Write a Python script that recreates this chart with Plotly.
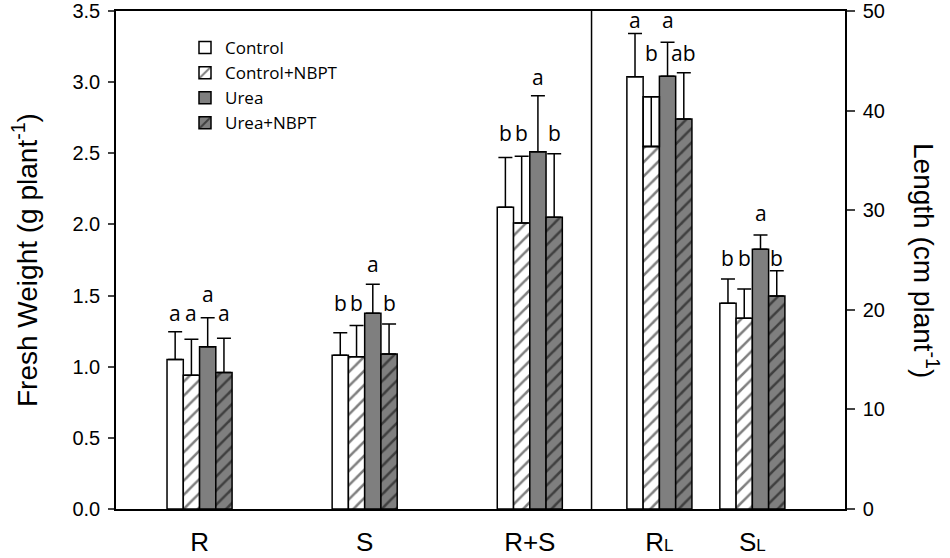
import plotly.graph_objects as go

# ---- data ----
fw_categories = ["R", "S", "R+S"]
len_categories = ["R<span style='font-size:17px'>L</span>", "S<span style='font-size:17px'>L</span>"]
treatments = ["Control", "Control+NBPT", "Urea", "Urea+NBPT"]

fw_control = [1.05, 1.08, 2.12]
fw_control_nbpt = [0.94, 1.07, 2.01]
fw_urea = [1.14, 1.375, 2.51]
fw_urea_nbpt = [0.96, 1.09, 2.05]

fw_err_control = [0.195, 0.158, 0.35]
fw_err_control_nbpt = [0.253, 0.22, 0.47]
fw_err_urea = [0.204, 0.204, 0.395]
fw_err_urea_nbpt = [0.24, 0.21, 0.446]

len_control = [43.4, 20.65]
len_control_nbpt = [36.4, 19.15]
len_urea = [43.45, 26.07]
len_urea_nbpt = [39.16, 21.39]

len_err_control = [4.35, 2.44]
len_err_control_nbpt = [5.0, 2.94]
len_err_urea = [3.4, 1.43]
len_err_urea_nbpt = [4.65, 2.54]

fw_letters = [["a", "b", "b"], ["a", "b", "b"], ["a", "a", "a"], ["a", "b", "b"]]
len_letters = [["a", "b"], ["b", "b"], ["a", "a"], ["ab", "b"]]
fw_letter_y = [[1.377, 1.446, 2.640], [1.377, 1.446, 2.640],
               [1.511, 1.722, 3.036], [1.377, 1.446, 2.640]]
len_letter_y = [[49.1, 25.17], [45.8, 25.17], [49.1, 29.69], [45.8, 25.17]]

# ---- layout helpers ----
fw_pos = [0, 1, 2]
len_pos = [2.785, 3.348]
bar_w = 0.0985
sep_x = 2.374

fw_means = [fw_control, fw_control_nbpt, fw_urea, fw_urea_nbpt]
fw_errs = [fw_err_control, fw_err_control_nbpt, fw_err_urea, fw_err_urea_nbpt]
len_means = [len_control, len_control_nbpt, len_urea, len_urea_nbpt]
len_errs = [len_err_control, len_err_control_nbpt, len_err_urea, len_err_urea_nbpt]

GRAY = "#7f7f7f"
styles = [
    dict(color="white", pattern=dict(shape="")),
    dict(color="white", pattern=dict(shape="/", fgcolor="black", bgcolor="white", size=10, solidity=0.25)),
    dict(color=GRAY, pattern=dict(shape="")),
    dict(color=GRAY, pattern=dict(shape="/", fgcolor="black", bgcolor=GRAY, size=10, solidity=0.25)),
]

fig = go.Figure()
annotations = []
shapes = []

for k, name in enumerate(treatments):
    off = (k - 2) * bar_w
    st = styles[k]
    marker = dict(color=st["color"], pattern=st["pattern"], line=dict(color="black", width=1.5))
    fig.add_trace(go.Bar(
        x=fw_pos, y=fw_means[k], name=name, legendgroup=name, showlegend=True,
        width=bar_w, offset=off, marker=marker, yaxis="y",
        error_y=dict(type="data", array=fw_errs[k], arrayminus=[0] * len(fw_pos), symmetric=False,
                     color="black", thickness=1.5, width=7),
    ))
    fig.add_trace(go.Bar(
        x=len_pos, y=len_means[k], name=name, legendgroup=name, showlegend=False,
        width=bar_w, offset=off, marker=marker, yaxis="y2",
        error_y=dict(type="data", array=len_errs[k], arrayminus=[0] * len(len_pos), symmetric=False,
                     color="black", thickness=1.5, width=7),
    ))
    for i, p in enumerate(fw_pos):
        annotations.append(dict(x=p + off + bar_w / 2, y=fw_letter_y[k][i], xref="x", yref="y",
                                text=fw_letters[k][i], showarrow=False,
                                font=dict(family="Open Sans", size=21, color="black")))
    for i, p in enumerate(len_pos):
        annotations.append(dict(x=p + off + bar_w / 2, y=len_letter_y[k][i], xref="x", yref="y2",
                                text=len_letters[k][i], showarrow=False,
                                font=dict(family="Open Sans", size=21, color="black")))

# outline above the Control+NBPT R_L bar, as drawn in the reference
k = 1
off = (k - 2) * bar_w
shapes.append(dict(type="rect", xref="x", yref="y2",
                   x0=len_pos[0] + off, x1=len_pos[0] + off + bar_w,
                   y0=len_means[k][0], y1=len_means[k][0] + len_errs[k][0],
                   line=dict(color="black", width=1.5), fillcolor="rgba(0,0,0,0)", layer="above"))

# separator line between the weight and the length panels
shapes.append(dict(type="line", xref="x", yref="paper", x0=sep_x, x1=sep_x, y0=0, y1=1,
                   line=dict(color="black", width=1.5)))

# axis titles
annotations.append(dict(x=-91 / 729, y=0.5, xref="paper", yref="paper", xanchor="center", yanchor="middle",
                        text="Fresh Weight (g plant<sup>-1</sup>)", textangle=-90, showarrow=False,
                        font=dict(family="Liberation Sans", size=28, color="black")))
annotations.append(dict(x=1 + 81 / 729, y=0.5, xref="paper", yref="paper", xanchor="center", yanchor="middle",
                        text="Length (cm plant<sup>-1</sup>)", textangle=90, showarrow=False,
                        font=dict(family="Liberation Sans", size=28, color="black")))

fig.update_layout(
    width=950, height=558,
    margin=dict(l=116, r=105, t=11, b=49, autoexpand=False),
    plot_bgcolor="white", paper_bgcolor="white",
    barmode="overlay",
    font=dict(family="Liberation Sans", color="black"),
    xaxis=dict(range=[-0.506, 3.909], tickvals=fw_pos + len_pos, ticktext=fw_categories + len_categories,
               showline=True, mirror=True, linecolor="black", linewidth=1.5, ticks="",
               showgrid=False, zeroline=False, tickfont=dict(size=26), ticklabelstandoff=9,
               automargin=False),
    yaxis=dict(range=[0, 3.5], dtick=0.5, tickformat=".1f", showline=True, linecolor="black", linewidth=1.5,
               ticks="outside", ticklen=6, tickwidth=1.5, showgrid=False, zeroline=False,
               tickfont=dict(size=20), ticklabelstandoff=4, automargin=False),
    yaxis2=dict(range=[0, 50], dtick=10, overlaying="y", side="right", showline=True, linecolor="black",
                linewidth=1.5, ticks="outside", ticklen=8, tickwidth=1.5, showgrid=False, zeroline=False,
                tickfont=dict(size=20), ticklabelstandoff=4, automargin=False),
    legend=dict(x=(185 - 116) / 729, y=1 - (30 - 11) / 498, xanchor="left", yanchor="top",
                bgcolor="rgba(0,0,0,0)", font=dict(family="Open Sans", size=17, color="black"),
                tracegroupgap=0, itemwidth=30),
    annotations=annotations,
    shapes=shapes,
)

# remove the browser's default 8 px page margin so the 950x558 figure fills the window exactly
fig.write_html("out.html", config={"displayModeBar": False},
               post_script="document.body.style.margin='0px';")
